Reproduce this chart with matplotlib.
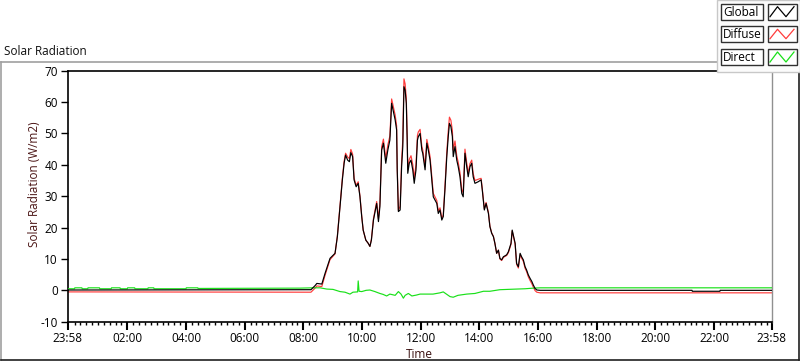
import matplotlib
matplotlib.use("Agg")
import matplotlib.pyplot as plt
from matplotlib.patches import Rectangle
from matplotlib.lines import Line2D
import numpy as np

plt.rcParams['font.family'] = ['Open Sans', 'DejaVu Sans']

# ---------------- data (time in hours from midnight) ----------------
t_start = -2 / 60.0          # 23:58 of the previous day
t_end = 23 + 58 / 60.0       # 23:58

glob_t = [t_start, 8.26, 8.40, 8.46, 8.63, 8.74, 8.91, 9.08, 9.16, 9.23, 9.27, 9.33, 9.39, 9.44,
          9.51, 9.57, 9.62, 9.68, 9.73, 9.80, 9.87, 9.93, 9.99, 10.04, 10.13, 10.21, 10.27,
          10.32, 10.39, 10.50, 10.56, 10.61, 10.67, 10.73, 10.81, 10.88, 10.95, 11.01, 11.07,
          11.13, 11.18, 11.20, 11.24, 11.30, 11.35, 11.39, 11.43, 11.47, 11.51, 11.54, 11.56,
          11.61, 11.67, 11.73, 11.78, 11.84, 11.89, 11.92, 11.98, 12.04, 12.07, 12.15, 12.21,
          12.26, 12.32, 12.38, 12.43, 12.55, 12.60, 12.66, 12.72, 12.77, 12.83, 12.89, 12.94,
          12.98, 13.03, 13.08, 13.11, 13.17, 13.23, 13.28, 13.34, 13.40, 13.45, 13.51, 13.57,
          13.62, 13.68, 13.74, 13.79, 13.85, 13.96, 14.06, 14.10, 14.17, 14.23, 14.31, 14.36,
          14.42, 14.48, 14.53, 14.59, 14.65, 14.70, 14.76, 14.82, 14.93, 14.99, 15.08, 15.12,
          15.17, 15.22, 15.27, 15.33, 15.39, 15.44, 15.50, 15.56, 15.61, 15.67, 15.73, 15.79,
          15.84, 15.90, 15.96, 16.07, 21.25, 21.26, 22.20, 22.21, t_end]

global_rad = [0.1, 0.2, 1.5, 2.2, 2.0, 5.4, 10.2, 11.8, 17.1, 24.5, 28.8, 35.2, 40.5, 43.1,
              41.5, 41.0, 43.9, 42.6, 35.2, 33.0, 34.1, 29.8, 23.5, 19.2, 16.0, 15.0, 14.0,
              16.0, 22.4, 27.7, 21.9, 26.7, 44.7, 46.9, 40.5, 44.7, 47.9, 59.6, 56.9,
              54.3, 51.1, 38.4, 25.1, 25.6, 39.4, 45.8, 64.9, 63.8, 59.6, 47.9, 37.3,
              40.5, 41.5, 38.4, 34.1, 38.4, 47.9, 49.0, 50.0, 44.7, 43.7, 38.4, 46.9,
              44.7, 41.5, 35.2, 29.8, 27.7, 24.5, 25.6, 22.4, 23.5, 32.5, 42.6, 49.0,
              53.2, 52.2, 49.0, 42.6, 45.8, 41.5, 39.4, 36.2, 30.9, 29.8, 43.7, 39.4,
              36.2, 39.4, 40.5, 36.2, 34.1, 34.6, 35.2, 32.0, 25.6, 27.7, 24.5, 20.3,
              18.2, 17.1, 15.0, 11.8, 12.8, 10.2, 9.7, 10.7, 11.3, 12.3, 15.0, 19.2,
              17.1, 15.0, 8.6, 7.5, 11.8, 10.7, 9.7, 7.5, 6.5, 4.9, 3.8, 2.8,
              1.7, 0.6, 0.1, 0.0, 0.0, -0.3, -0.3, 0.0, 0.0]

diffuse_rad = [-0.5, -0.6, 0.7, 1.4, 1.2, 4.8, 9.8, 11.6, 17.4, 24.8, 29.1, 35.8, 41.1, 43.7,
               42.5, 42.0, 44.9, 43.4, 35.7, 33.5, 34.6, 30.1, 23.7, 19.2, 16.0, 15.0, 14.0,
               16.3, 22.8, 28.3, 22.8, 27.7, 45.8, 48.2, 42.0, 46.3, 49.2, 61.0, 58.4,
               55.9, 52.4, 39.3, 25.5, 26.8, 41.2, 48.0, 67.4, 65.8, 61.2, 49.3, 38.5,
               41.7, 42.9, 40.1, 35.8, 40.0, 49.4, 50.5, 51.3, 45.8, 44.8, 39.5, 48.1,
               45.9, 42.6, 36.3, 30.9, 28.6, 25.3, 26.3, 23.0, 24.0, 33.5, 44.0, 50.8,
               55.2, 54.2, 51.0, 44.6, 47.6, 42.9, 40.8, 37.5, 32.2, 31.1, 45.0, 40.6,
               37.3, 40.4, 41.5, 37.2, 35.0, 35.4, 35.7, 32.4, 26.0, 28.0, 24.8, 20.5,
               18.3, 17.2, 15.0, 11.8, 12.8, 10.0, 9.5, 10.5, 11.1, 12.0, 14.7, 18.9,
               16.8, 14.7, 8.3, 7.1, 11.4, 10.3, 9.2, 7.0, 6.0, 4.3, 3.1, 2.1,
               1.0, -0.1, -0.6, -0.8, -0.8, -0.8, -0.8, -0.8, -0.8]

direct_t = [t_start, 0.20, 0.21, 0.45, 0.46, 0.65, 0.66, 1.05, 1.06, 1.45, 1.46, 1.75, 1.76,
            2.00, 2.01, 2.25, 2.26, 2.70, 2.71, 2.90, 2.91, 4.00, 4.01, 4.40, 4.41,
            7.89, 8.33, 8.57, 8.80, 9.01, 9.25, 9.42, 9.59, 9.69, 9.85, 9.87, 9.90, 9.99,
            10.14, 10.27, 10.44, 10.61, 10.72, 10.84, 10.95, 11.13, 11.24, 11.33, 11.41,
            11.47, 11.58, 11.70, 11.86, 11.98, 12.21, 12.42, 12.66, 12.77, 13.00, 13.11,
            13.27, 13.57, 13.85, 14.14, 14.36, 14.70, 14.98, 15.27, 15.56, 15.84, 16.07, t_end]

direct_rad = [0.5, 0.5, 0.8, 0.8, 0.5, 0.5, 0.8, 0.8, 0.5, 0.5, 0.8, 0.8, 0.5,
              0.5, 0.8, 0.8, 0.5, 0.5, 0.8, 0.8, 0.5, 0.5, 0.8, 0.8, 0.6,
              0.7, 0.8, 0.8, 0.4, 0.3, -0.4, -0.6, -1.2, -0.6, -0.5, 3.0, -0.3, -0.4,
              0.0, 0.1, -0.4, -1.0, -1.3, -1.8, -1.2, -1.6, -0.4, -1.2, -2.5,
              -1.6, -1.0, -1.8, -1.5, -1.2, -1.2, -1.2, -0.8, -0.5, -2.0, -2.2,
              -1.6, -1.2, -1.0, -0.3, -0.3, 0.2, 0.3, 0.4, 0.5, 0.7, 0.8, 0.8]

series_names = ["Global", "Diffuse", "Direct"]
series_colors = ["#000000", "#ff3c3c", "#19e019"]

x_tick_pos = [t_start, 2, 4, 6, 8, 10, 12, 14, 16, 18, 20, 22, t_end]
x_tick_labels = ["23:58", "02:00", "04:00", "06:00", "08:00", "10:00", "12:00",
                 "14:00", "16:00", "18:00", "20:00", "22:00", "23:58"]
y_ticks = [-10, 0, 10, 20, 30, 40, 50, 60, 70]

# ---------------- figure ----------------
W, H = 800, 361
fig = plt.figure(figsize=(W / 100, H / 100), dpi=100)
fig.patch.set_facecolor("white")

def fx(px):
    return px / W

def fy(py):
    return 1 - py / H

# outer frame (sunken style)
fig.add_artist(Line2D([fx(0.5), fx(799)], [fy(61.7), fy(61.7)], color="#a0a0a0", lw=1.2))
fig.add_artist(Line2D([fx(0.7), fx(0.7)], [fy(61.7), fy(360)], color="#a0a0a0", lw=1.2))
fig.add_artist(Line2D([fx(0.5), fx(799)], [fy(359.8), fy(359.8)], color="#202020", lw=1.2))
fig.add_artist(Line2D([fx(798.8), fx(798.8)], [fy(61.7), fy(360)], color="#202020", lw=1.2))

ax_left, ax_right, ax_top, ax_bottom = 67.7, 771.7, 70.7, 321.7
ax = fig.add_axes([fx(ax_left), fy(ax_bottom), (ax_right - ax_left) / W, (ax_bottom - ax_top) / H])
ax.set_facecolor("white")

ax.plot(glob_t, diffuse_rad, color=series_colors[1], lw=0.85, zorder=2)
ax.plot(direct_t, direct_rad, color=series_colors[2], lw=0.85, zorder=3)
ax.plot(glob_t, global_rad, color=series_colors[0], lw=0.85, zorder=4)

ax.set_xlim(t_start, t_end)
ax.set_ylim(-10, 70)
ax.set_xticks(x_tick_pos)
ax.set_xticklabels(x_tick_labels)
minor = [m for m in np.arange(0.2, 24.0, 0.2) if abs(m / 2 - round(m / 2)) > 1e-6]
ax.set_xticks(minor, minor=True)
ax.set_yticks(y_ticks)
ax.set_yticklabels([str(v) for v in y_ticks])

ax.tick_params(axis="both", which="major", direction="out", length=5, width=1.0,
               labelsize=8.5, colors="black", pad=2)
ax.tick_params(axis="x", which="minor", direction="out", length=2.5, width=1.0)
ax.tick_params(axis="x", which="major", length=5.5, width=1.5)

for side in ["left", "bottom", "top"]:
    ax.spines[side].set_color("black")
    ax.spines[side].set_linewidth(1.2)
ax.spines["right"].set_color("#909090")
ax.spines["right"].set_linewidth(1.0)

# texts
fig.text(fx(4), fy(55), "Solar Radiation", fontsize=8.5, color="#101010",
         ha="left", va="baseline")
fig.text(fx(37.5), fy(184), "Solar Radiation (W/m2)", fontsize=8.5, color="#4a1414",
         rotation=90, rotation_mode="anchor", ha="center", va="baseline")
fig.text(fx(419), fy(358.3), "Time", fontsize=8.5, color="#3a1010",
         ha="center", va="baseline")

# legend panel (top right)
fig.add_artist(Rectangle((fx(717.3), fy(71.7)), fx(800 - 717.3), 71.7 / H,
                         facecolor="#fbfbfb", edgecolor="#c8c8c8", lw=1.0, zorder=10))
rows = [(3.7, 19.7), (26.3, 41.7), (49.0, 65.0)]
for name, col, (top, bot) in zip(series_names, series_colors, rows):
    fig.add_artist(Rectangle((fx(721), fy(bot)), fx(763.3 - 721), (bot - top) / H,
                             facecolor="white", edgecolor="#303030", lw=1.0, zorder=11))
    fig.text(fx(723), fy((top + bot) / 2 + 0.5), name, fontsize=8.5, color="#000000",
             ha="left", va="center", zorder=12)
    fig.add_artist(Rectangle((fx(767.7), fy(bot)), fx(796.7 - 767.7), (bot - top) / H,
                             facecolor="white", edgecolor="#303030", lw=1.0, zorder=11))
    zx = [770, 777.5, 786, 794]
    zy = [bot - 3, top + 3, bot - 3, top + 3]
    fig.add_artist(Line2D([fx(v) for v in zx], [fy(v) for v in zy], color=col, lw=0.9,
                          zorder=12))

fig.savefig("out.png", dpi=100)
